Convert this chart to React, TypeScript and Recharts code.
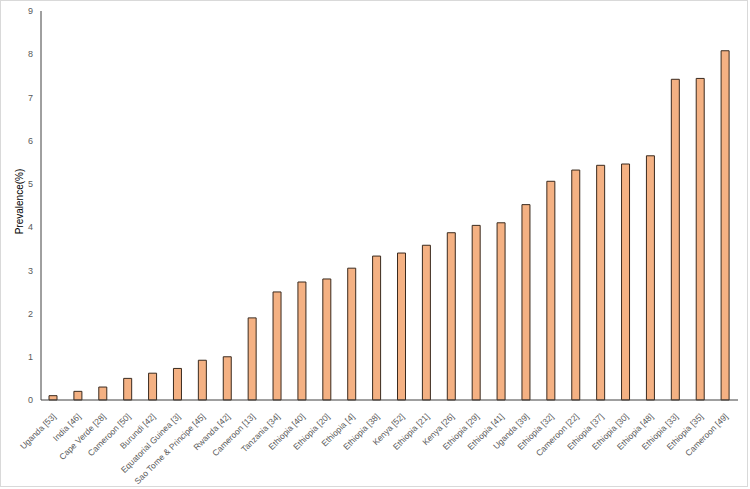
import { BarChart, Bar, XAxis, YAxis } from "recharts";

const studies = [
  "Uganda [53]", "India [46]", "Cape Verde [28]", "Cameroon [50]", "Burundi [42]",
  "Equatorial Guinea [3]", "Sao Tome & Principe [45]", "Rwanda [42]", "Cameroon [13]",
  "Tanzania [34]", "Ethiopia [40]", "Ethiopia [20]", "Ethiopia [4]", "Ethiopia [38]",
  "Kenya [52]", "Ethiopia [21]", "Kenya [26]", "Ethiopia [29]", "Ethiopia [41]",
  "Uganda [39]", "Ethiopia [32]", "Cameroon [22]", "Ethiopia [37]", "Ethiopia [30]",
  "Ethiopia [48]", "Ethiopia [33]", "Ethiopia [35]", "Cameroon [49]",
];

const prevalence = [
  0.1, 0.2, 0.3, 0.5, 0.62, 0.73, 0.92, 1.0, 1.9, 2.5, 2.73, 2.8, 3.05, 3.33,
  3.4, 3.58, 3.87, 4.04, 4.1, 4.52, 5.06, 5.32, 5.43, 5.46, 5.65, 7.42, 7.44, 8.08,
];

const yTicks = [0, 1, 2, 3, 4, 5, 6, 7, 8, 9];

const data = studies.map((name, i) => ({ name, value: prevalence[i] }));

const font = "'Liberation Sans', Arial, sans-serif";

const AngledTick = (props: any) => {
  const { x, y, payload } = props;
  const ax = x + 3;
  const ay = y + 9;
  return (
    <text
      x={ax}
      y={ay}
      transform={`rotate(-45, ${ax}, ${ay})`}
      textAnchor="end"
      fontSize={8.5}
      fontFamily={font}
      fill="#595959"
    >
      {payload.value}
    </text>
  );
};

const YTitle = (props: any) => {
  const { viewBox } = props;
  const cx = 19;
  const cy = viewBox.y + viewBox.height / 2 - 4;
  return (
    <text
      x={cx}
      y={cy}
      transform={`rotate(-90, ${cx}, ${cy})`}
      textAnchor="middle"
      dominantBaseline="central"
      fontSize={10}
      fontFamily={font}
      fill="#000"
    >
      Prevalence(%)
    </text>
  );
};

export default function App() {
  return (
    <div style={{ position: "absolute", left: 0, top: 0, width: 750, height: 489, background: "#fff" }}>
      <div style={{ position: "absolute", left: 0, top: 0, width: 748, height: 487, border: "1px solid #d9d9d9", boxSizing: "border-box" }} />
      <BarChart
        width={750}
        height={489}
        data={data}
        barSize={8}
        margin={{ top: 11, right: 12, left: 11, bottom: 9 }}
      >
        <XAxis
          dataKey="name"
          interval={0}
          tickLine={false}
          axisLine={{ stroke: "#404040" }}
          tick={<AngledTick />}
          height={80}
        />
        <XAxis xAxisId="top" orientation="top" dataKey="name" tick={false} tickLine={false} height={0} axisLine={{ stroke: "#404040" }} />
        <YAxis
          domain={[0, 9]}
          ticks={yTicks}
          tickLine={false}
          axisLine={{ stroke: "#404040" }}
          width={30}
          tick={{ fontSize: 9, fill: "#595959", fontFamily: font }}
          label={<YTitle />}
        />
        <YAxis yAxisId="right" orientation="right" domain={[0, 9]} tick={false} tickLine={false} width={0} axisLine={{ stroke: "#404040" }} />
        <Bar dataKey="value" fill="#F4B183" stroke="#3a2a1e" strokeWidth={1} isAnimationActive={false} />
      </BarChart>
    </div>
  );
}
